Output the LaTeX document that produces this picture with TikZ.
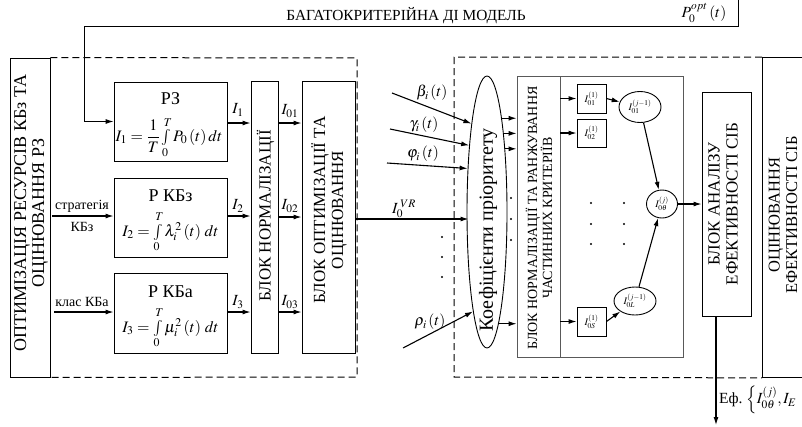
\documentclass[tikz,border=0pt]{standalone}
\usepackage{mathptmx}
\usepackage{fontspec}
\setmainfont{Liberation Serif}
\usetikzlibrary{arrows.meta,shapes.geometric}
\begin{document}
\begin{tikzpicture}[x=1pt,y=-1pt,
  box/.style={draw,line width=0.9pt,rectangle,inner sep=0pt},
  graybox/.style={draw=black!65,line width=0.8pt,rectangle,inner sep=0pt},
  arr/.style={-{Latex[length=8pt,width=5pt]},line width=1.1pt},
  thinarr/.style={-{Latex[length=8pt,width=5pt]},line width=0.9pt},
  dashln/.style={line width=1pt,dash pattern=on 7pt off 4pt},
  txt/.style={inner sep=0pt},
  vert/.style={inner sep=0pt,rotate=90,align=center},
  ttl/.style={inner sep=0pt,font=\fontsize{18}{19}\selectfont},
  frm/.style={inner sep=0pt,font=\fontsize{16}{17}\selectfont},
  lab/.style={font=\fontsize{14}{15}\selectfont,inner sep=0pt},
  mlab/.style={font=\fontsize{15.5}{16}\selectfont,inner sep=0pt},
  tiny/.style={font=\fontsize{10}{11}\selectfont,inner sep=0pt},
  dot/.style={circle,fill,inner sep=0pt,minimum size=2.4pt}]
\useasboundingbox (0,0) rectangle (802,426);
\clip (0,0) rectangle (802,426);

% ---- left part ----
\node[box,minimum width=40pt,minimum height=319pt] (left) at (30,217.5) {};
\node[vert,font=\fontsize{18}{18}\selectfont] (lefttxt) at (31,213) {ОПТИМІЗАЦІЯ РЕСУРСІВ КБз ТА\\ОЦІНЮВАННЯ РЗ};
\coordinate (dA) at (357,58);
\coordinate (dB) at (357,377);
\draw[dashln] (left.north east) -- (dA) -- (dB) -- (left.south east);

\node[box,minimum width=113pt,minimum height=79pt] (rz) at (170.5,121.5) {};
\node[ttl] (rzt) at (170.5,99) {РЗ};
\node[frm] (rzf) at (169,137.5) {$I_1=\displaystyle\frac{1}{T}\textstyle\int\limits_0^T P_0\left(t\right)dt$};

\node[box,minimum width=113pt,minimum height=79pt] (rkbz) at (170.5,217.5) {};
\node[ttl] (rkbzt) at (170.5,196) {Р КБз};
\node[frm] (rkbzf) at (170.5,232) {$I_2=\int\limits_0^T \lambda_i^2\left(t\right)\,dt$};

\node[box,minimum width=113pt,minimum height=80pt] (rkba) at (170.5,313) {};
\node[ttl] (rkbat) at (170.5,292) {Р КБа};
\node[frm] (rkbaf) at (170.5,328) {$I_3=\int\limits_0^T \mu_i^2\left(t\right)\,dt$};

\node[box,minimum width=27pt,minimum height=272pt] (norm) at (264.5,217) {};
\node[vert,font=\fontsize{17}{17}\selectfont] (normt) at (265.5,216) {БЛОК НОРМАЛІЗАЦІЇ};
\node[box,minimum width=53pt,minimum height=272pt] (opt) at (328.5,217) {};
\node[vert,font=\fontsize{17}{18}\selectfont] (optt) at (329,210) {БЛОК ОПТИМІЗАЦІЇ ТА\\ОЦІНЮВАННЯ};

% feedback
\coordinate (fbA) at (738,0);
\coordinate (fbB) at (84,26);
\draw[thinarr] (fbA) |- (fbB) |- (rz.west);
\node[txt,font=\fontsize{15.4}{16}\selectfont] (model) at (406,16) {БАГАТОКРИТЕРІЙНА ДІ МОДЕЛЬ};
\node[mlab] (popt) at (704,13) {$P_0^{opt}\left(t\right)$};

% inputs
\coordinate (sA) at (52,216);
\draw[arr] (sA) -- (sA -| rkbz.west);
\node[lab] (strat) at (82,206) {стратегія};
\node[lab] (kbz) at (82,227) {КБз};
\coordinate (kA) at (54,312);
\draw[arr] (kA) -- (kA -| rkba.west);
\node[lab] (klas) at (82,302) {клас КБа};

% I arrows
\draw[arr] (rz.east |- 0,123) -- (norm.west |- 0,123);
\draw[arr] (rkbz.east |- 0,216) -- (norm.west |- 0,216);
\draw[arr] (rkba.east |- 0,312) -- (norm.west |- 0,312);
\node[mlab] (l1) at (238,110) {$I_1$};
\node[mlab] (l2) at (238,206) {$I_2$};
\node[mlab] (l3) at (238,302) {$I_3$};
\draw[arr] (norm.east |- 0,123) -- (opt.west |- 0,123);
\draw[arr] (norm.east |- 0,217) -- (opt.west |- 0,217);
\draw[arr] (norm.east |- 0,312) -- (opt.west |- 0,312);
\node[mlab] (l01) at (290,111) {$I_{01}$};
\node[mlab] (l02) at (290,206) {$I_{02}$};
\node[mlab] (l03) at (290,302) {$I_{03}$};

% ---- right dashed area ----
\node[draw,ellipse,line width=0.9pt,inner sep=0pt,minimum width=40pt,minimum height=272pt] (ell) at (487,212) {};
\node[vert,font=\fontsize{20}{20}\selectfont] (ellt) at (488,230) {Коефіцієнти пріоритету};

\draw[arr] (opt.east |- 0,219) -- (468.5,219);
\node[mlab] (lvr) at (404,209) {$I_0^{\;VR}$};

\coordinate (bs) at (392,93);
\coordinate (gs) at (390,129);
\coordinate (fs) at (387,163);
\coordinate (rs) at (403,348);
\draw[arr] (bs) -- (ell.100.4);
\draw[arr] (gs) -- (ell.105.3);
\draw[arr] (fs) -- (ell.114.3);
\draw[arr] (rs) -- (ell.262.2);
\node[mlab] (lb) at (432,93) {$\beta_i\left(t\right)$};
\node[mlab] (lg) at (424,125) {$\gamma_i\left(t\right)$};
\node[mlab] (lf) at (423,154) {$\varphi_i\left(t\right)$};
\node[mlab] (lr) at (430,322) {$\rho_i\left(t\right)$};
\node[dot] (d1) at (442,237) {};
\node[dot] (d2) at (442,257) {};
\node[dot] (d3) at (442,277) {};

\coordinate (rA) at (454,57);
\coordinate (rB) at (454,377);
\node[box,minimum width=60pt,minimum height=320pt,anchor=north west] (eval) at (762,57) {};
\draw[dashln] (eval.north west) -- (rA) -- (rB) -- (eval.south west);
\node[vert,font=\fontsize{16.5}{17.5}\selectfont] (evalt) at (783,215) {ОЦІНЮВАННЯ\\ЕФЕКТИВНОСТІ СІБ};

\node[graybox,minimum width=43pt,minimum height=281pt] (rank) at (538.5,216.5) {};
\node[graybox,minimum width=123pt,minimum height=281pt] (rankout) at (621.5,216.5) {};
\node[vert,font=\fontsize{14}{15}\selectfont] (rankt) at (539,218) {БЛОК НОРМАЛІЗАЦІЇ ТА РАНЖУВАННЯ\\ЧАСТИННИХ КРИТЕРІЇВ};

\draw[arr] (ell.81.1) -- (ell.81.1 -| rank.west);
\draw[arr] (ell.78.1) -- (ell.78.1 -| rank.west);
\draw[arr] (ell.74.6) -- (ell.74.6 -| rank.west);
\draw[arr] (ell.276.9) -- (ell.276.9 -| rank.west);
\node[dot] (e1) at (511,198) {};
\node[dot] (e2) at (511,219) {};
\node[dot] (e3) at (511,240) {};

\node[box,minimum width=29pt,minimum height=29pt] (b1) at (591.5,98.5) {};
\node[tiny] at (b1) {$I_{01}^{(1)}$};
\node[box,minimum width=29pt,minimum height=28pt] (b2) at (591.5,133) {};
\node[tiny] at (b2) {$I_{02}^{(1)}$};
\node[box,minimum width=29pt,minimum height=29pt] (bS) at (591.5,321.5) {};
\node[tiny] at (bS) {$I_{0S}^{(1)}$};
\draw[arr] (rank.east |- b1) -- (b1.west);
\draw[arr] (rank.east |- b2) -- (b2.west);
\draw[arr] (rank.east |- bS) -- (bS.west);

\foreach \yy in {203,224,244} {
  \node[dot] at (591,\yy) {};
  \node[dot] at (624,\yy) {};
}

\node[draw,ellipse,line width=0.9pt,inner sep=0pt,minimum width=42pt,minimum height=31pt] (c1) at (640,107) {};
\node[tiny] at (c1) {$I_{01}^{(j-1)}$};
\node[draw,ellipse,line width=0.9pt,inner sep=0pt,minimum width=31pt,minimum height=28pt] (cth) at (662,204) {};
\node[tiny] at (cth) {$I_{0\theta}^{(j)}$};
\node[draw,ellipse,line width=0.9pt,inner sep=0pt,minimum width=42pt,minimum height=28pt] (cL) at (635,301) {};
\node[tiny] at (cL) {$I_{0L}^{(j-1)}$};
\draw[arr] (b1.east) -- (c1);
\draw[arr] (bS.east) -- (cL);
\draw[arr] (c1) -- (cth);
\draw[arr] (cL) -- (cth);

\node[box,minimum width=49pt,minimum height=224pt] (an) at (726.5,204) {};
\node[vert,font=\fontsize{17}{18}\selectfont] (ant) at (723,204) {БЛОК АНАЛІЗУ\\ЕФЕКТИВНОСТІ СІБ};
\draw[arr] (cth) -- (cth -| an.west);

\coordinate (outE) at (716,425);
\draw[arr] (an.south -| outE) -- (outE);
\node[txt,anchor=west,font=\fontsize{15.5}{16}\selectfont] (eff) at (719,400) {Еф.\ $\left\{I_{0\theta}^{(j)},I_E\right.$};
\end{tikzpicture}
\end{document}
